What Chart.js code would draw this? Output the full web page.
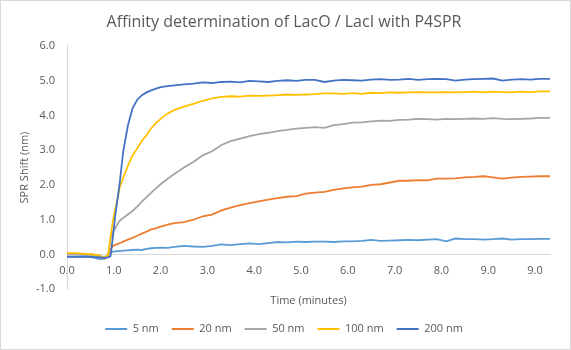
<!DOCTYPE html>
<html>
<head>
<meta charset="utf-8">
<script src="https://cdn.jsdelivr.net/npm/chart.js@4.4.0/dist/chart.umd.min.js"></script>
<style>
html,body{margin:0;padding:0;background:#fff;}
#wrap{width:571px;height:350px;}
</style>
</head>
<body>
<div id="wrap"><canvas id="c" width="571" height="350"></canvas></div>
<script>
// Time positions (minutes, on the category-style axis)
const times = [0,0.2,0.4,0.55,0.7,0.8,0.88,0.93,0.98,1.03,1.08,1.13,1.2,1.3,1.4,1.5,1.6,1.7,1.8,1.9,2.0,2.15,2.3,2.5,2.7,2.9,3.1,3.3,3.5,3.7,3.9,4.1,4.3,4.5,4.7,4.9,5.1,5.3,5.5,5.7,5.9,6.1,6.3,6.5,6.7,6.9,7.1,7.3,7.5,7.7,7.9,8.1,8.3,8.5,8.7,8.9,9.1,9.3,9.5,9.7,9.9,10.1,10.32];

const nm200 = [-0.07,-0.07,-0.06,-0.07,-0.08,-0.10,-0.08,-0.05,
  0.50,1.10,1.60,2.10,2.95,3.70,4.20,4.45,4.58,4.66,4.72,4.77,4.81,
  4.84,4.86,4.89,4.91,4.95,4.93,4.96,4.97,4.95,4.99,
  4.98,4.96,4.99,5.01,4.99,5.02,5.02,4.96,5.00,5.02,
  5.01,5.00,5.03,5.04,5.02,5.03,5.05,5.02,5.04,5.05,
  5.04,5.00,5.03,5.04,5.05,5.06,5.00,5.03,5.04,5.03,5.05,5.05];

const nm100 = [0.04,0.04,0.02,0.00,-0.03,-0.10,0.00,0.50,
  0.95,1.30,1.60,1.95,2.20,2.55,2.85,3.05,3.27,3.43,3.63,3.78,3.90,
  4.05,4.16,4.25,4.33,4.42,4.49,4.53,4.55,4.54,4.57,
  4.56,4.57,4.58,4.60,4.59,4.60,4.61,4.63,4.63,4.62,
  4.64,4.62,4.65,4.64,4.66,4.65,4.66,4.67,4.66,4.66,
  4.67,4.66,4.67,4.68,4.66,4.68,4.67,4.66,4.68,4.67,4.69,4.69];

const nm50 = [0.00,0.00,-0.01,-0.02,-0.05,-0.08,-0.03,0.45,
  0.65,0.75,0.88,0.98,1.05,1.15,1.25,1.38,1.52,1.65,1.78,1.90,2.02,
  2.18,2.32,2.50,2.66,2.85,2.97,3.15,3.26,3.33,3.40,
  3.46,3.50,3.55,3.58,3.62,3.64,3.66,3.64,3.72,3.75,
  3.79,3.80,3.83,3.85,3.84,3.87,3.88,3.90,3.89,3.88,
  3.90,3.89,3.90,3.91,3.90,3.92,3.90,3.89,3.90,3.91,3.93,3.93];

const nm20 = [0.03,0.02,0.01,0.00,-0.05,-0.12,-0.05,0.15,
  0.24,0.28,0.30,0.33,0.37,0.43,0.48,0.54,0.60,0.66,0.72,0.75,0.80,
  0.86,0.90,0.93,1.00,1.10,1.15,1.27,1.35,1.42,1.48,
  1.53,1.58,1.62,1.66,1.68,1.75,1.78,1.80,1.86,1.90,
  1.93,1.95,2.00,2.02,2.07,2.12,2.12,2.14,2.13,2.18,
  2.18,2.19,2.22,2.23,2.25,2.22,2.18,2.21,2.23,2.24,2.25,2.25];

const nm5 = [-0.06,-0.06,-0.05,-0.08,-0.13,-0.12,-0.04,0.05,
  0.08,0.09,0.10,0.10,0.11,0.12,0.13,0.14,0.13,0.16,0.18,0.19,0.20,
  0.19,0.22,0.25,0.23,0.22,0.25,0.29,0.27,0.30,0.32,
  0.30,0.33,0.36,0.35,0.37,0.36,0.37,0.37,0.36,0.38,
  0.38,0.39,0.42,0.39,0.40,0.41,0.42,0.41,0.43,0.44,
  0.38,0.46,0.44,0.44,0.43,0.44,0.46,0.43,0.44,0.44,0.45,0.45];

const seriesNames = ['5 nm','20 nm','50 nm','100 nm','200 nm'];
const seriesValues = [nm5, nm20, nm50, nm100, nm200];
const seriesColors = ['#5B9BD5','#ED7D31','#A5A5A5','#FFC000','#4472C4'];

const xTickLabels = ['0.0','1.0','2.0','3.0','4.0','5.0','6.0','7.0','8.0','9.0','9.0'];
const xMax = 10.32;
const yMin = -1, yMax = 6, yStep = 1;

const FONT = "'Open Sans', 'DejaVu Sans', sans-serif";
const TXT = '#595959';

// Excel draws later series on top: build datasets reversed, legend reversed back
const datasets = seriesNames.map((name, i) => ({
  label: name,
  data: times.map((t, j) => ({x: t, y: seriesValues[i][j]})),
  borderColor: seriesColors[i],
  backgroundColor: seriesColors[i],
  borderWidth: 1.8,
  pointRadius: 0,
  tension: 0,
  fill: false
})).reverse();

const framePlugin = {
  id: 'frame',
  beforeDraw(chart) {
    const ctx = chart.ctx;
    ctx.save();
    ctx.fillStyle = '#ffffff';
    ctx.fillRect(0, 0, chart.width, chart.height);
    ctx.strokeStyle = '#d9d9d9';
    ctx.lineWidth = 1;
    ctx.strokeRect(0.5, 0.5, chart.width - 1, chart.height - 1);
    ctx.restore();
  }
};

new Chart(document.getElementById('c'), {
  type: 'line',
  data: { datasets },
  plugins: [framePlugin],
  options: {
    responsive: false,
    animation: false,
    devicePixelRatio: 1,
    layout: { padding: { left: 18, right: 21, top: 0, bottom: 5.5 } },
    plugins: {
      title: {
        display: true,
        text: 'Affinity determination of LacO / LacI with P4SPR',
        color: TXT,
        font: { family: FONT, size: 16, weight: 'normal' },
        padding: { top: 12.4, bottom: 14.2 }
      },
      legend: {
        position: 'bottom',
        reverse: true,
        labels: {
          color: TXT,
          font: { family: FONT, size: 11 },
          usePointStyle: true,
          pointStyle: 'line',
          pointStyleWidth: 22,
          padding: 13
        }
      },
      tooltip: { enabled: false }
    },
    scales: {
      x: {
        type: 'linear',
        position: { y: 0 },
        min: 0,
        max: xMax,
        afterBuildTicks: (scale) => { scale.ticks = xTickLabels.map((_, i) => ({ value: i })); },
        ticks: {
          autoSkip: false,
          maxRotation: 0,
          padding: 10,
          color: TXT,
          font: { family: FONT, size: 11 },
          callback: (v) => xTickLabels[Math.round(v)]
        },
        grid: { display: false, drawTicks: false },
        border: { display: true, color: '#d9d9d9', width: 1 }
      },
      x2: {
        type: 'linear',
        position: 'bottom',
        min: 0,
        max: xMax,
        ticks: { display: false },
        grid: { display: false, drawTicks: false },
        border: { display: false },
        title: {
          display: true,
          text: 'Time (minutes)',
          color: TXT,
          font: { family: FONT, size: 11 },
          padding: { top: 5, bottom: 3 }
        }
      },
      y: {
        type: 'linear',
        position: 'left',
        min: yMin,
        max: yMax,
        afterFit: (scale) => { scale.width = 49; },
        ticks: {
          stepSize: yStep,
          padding: 12,
          color: TXT,
          font: { family: FONT, size: 11 },
          callback: (v) => v.toFixed(1)
        },
        grid: { display: false, drawTicks: false },
        border: { display: true, color: '#d9d9d9', width: 1 },
        title: {
          display: true,
          text: 'SPR Shift (nm)',
          color: TXT,
          font: { family: FONT, size: 11 },
          padding: { top: 0, bottom: 2 }
        }
      }
    }
  }
});
</script>
</body>
</html>
